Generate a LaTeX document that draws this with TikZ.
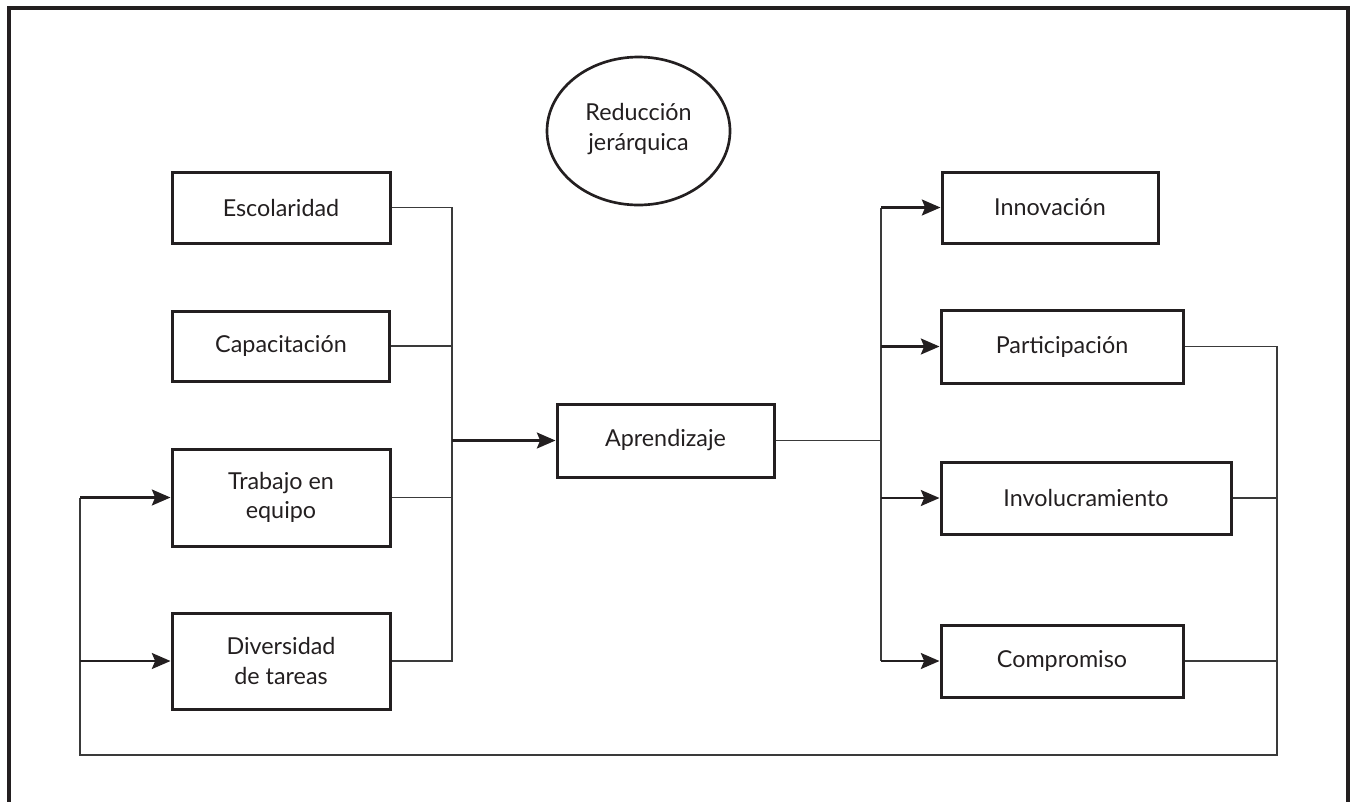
\documentclass[tikz,border=0pt]{standalone}
\usepackage{fontspec}
\setmainfont{Lato}
\usetikzlibrary{shapes.geometric,arrows.meta}
\newdimen\pxu \pxu=0.75pt
\definecolor{ink}{HTML}{231F20}
\definecolor{wire}{HTML}{3A3A3A}
\tikzset{
  box/.style={draw=ink,line width=2.25pt,rectangle,inner sep=0pt,align=center,
    font=\fontsize{17.5}{22}\selectfont,text=ink},
  ovaltext/.style={inner sep=0pt,align=center,
    font=\fontsize{17.5}{22}\selectfont,text=ink},
  ovalline/.style={draw=ink,line width=2pt},
  wireline/.style={draw=wire,line width=0.9pt},
  arr/.style={draw=ink,line width=1.6pt,-{Stealth[length=14pt,width=12pt,inset=2.5pt]}},
  frame/.style={draw=ink,line width=2.5pt}
}
\begin{document}
\begin{tikzpicture}[x=0.75pt,y=-0.75pt]
\useasboundingbox (0,0) rectangle (1352,801);
\clip (0,0) rectangle (1352,801);
\draw[frame] (9,8) rectangle (1348,830);

\node[ovaltext] (red) at (638.5,129) {Reducción\\jerárquica};
\draw[ovalline] (638.5,131) ellipse [x radius=91.5, y radius=74];

\node[box,minimum width=218\pxu,minimum height=71\pxu] (esc) at (281,207.5) {Escolaridad};
\node[box,minimum width=217\pxu,minimum height=70\pxu] (cap) at (281,346) {Capacitación};
\node[box,minimum width=218\pxu,minimum height=97\pxu] (trab) at (281,497.5) {Trabajo en\\equipo};
\node[box,minimum width=218\pxu,minimum height=96\pxu] (div) at (281,661) {Diversidad\\de tareas};
\node[box,minimum width=217\pxu,minimum height=73\pxu] (apr) at (665.5,440.5) {Aprendizaje};
\node[box,minimum width=216\pxu,minimum height=71\pxu] (inn) at (1050,207.5) {Innovación};
\node[box,minimum width=242\pxu,minimum height=73\pxu] (part) at (1062,346.5) {Participación};
\node[box,minimum width=290\pxu,minimum height=72\pxu] (inv) at (1086,498) {Involucramiento};
\node[box,minimum width=242\pxu,minimum height=72\pxu] (comp) at (1062,661) {Compromiso};

\coordinate (busL) at (452,440.5);
\coordinate (busR) at (881,440.5);
\coordinate (fbR) at (1277,755);
\coordinate (fbL) at (80,755);

% left collector
\draw[wireline] (esc.east) -- (esc.east -| busL) -- (div.east -| busL) -- (div.east);
\draw[wireline] (cap.east) -- (cap.east -| busL);
\draw[wireline] (trab.east) -- (trab.east -| busL);
\draw[arr] (busL) -- (apr.west);

% right distributor
\draw[wireline] (apr.east) -- (busR);
\draw[wireline] (busR |- inn.west) -- (busR |- comp.west);
\draw[arr] (busR |- inn.west) -- (inn.west);
\draw[arr] (busR |- part.west) -- (part.west);
\draw[arr] (busR |- inv.west) -- (inv.west);
\draw[arr] (busR |- comp.west) -- (comp.west);

% feedback loop
\draw[wireline] (part.east) -- (part.east -| fbR) -- (fbR) -- (fbL) -- (fbL |- trab.west);
\draw[wireline] (inv.east) -- (inv.east -| fbR);
\draw[wireline] (comp.east) -- (comp.east -| fbR);
\draw[arr] (fbL |- trab.west) -- (trab.west);
\draw[arr] (fbL |- div.west) -- (div.west);
\end{tikzpicture}
\end{document}
